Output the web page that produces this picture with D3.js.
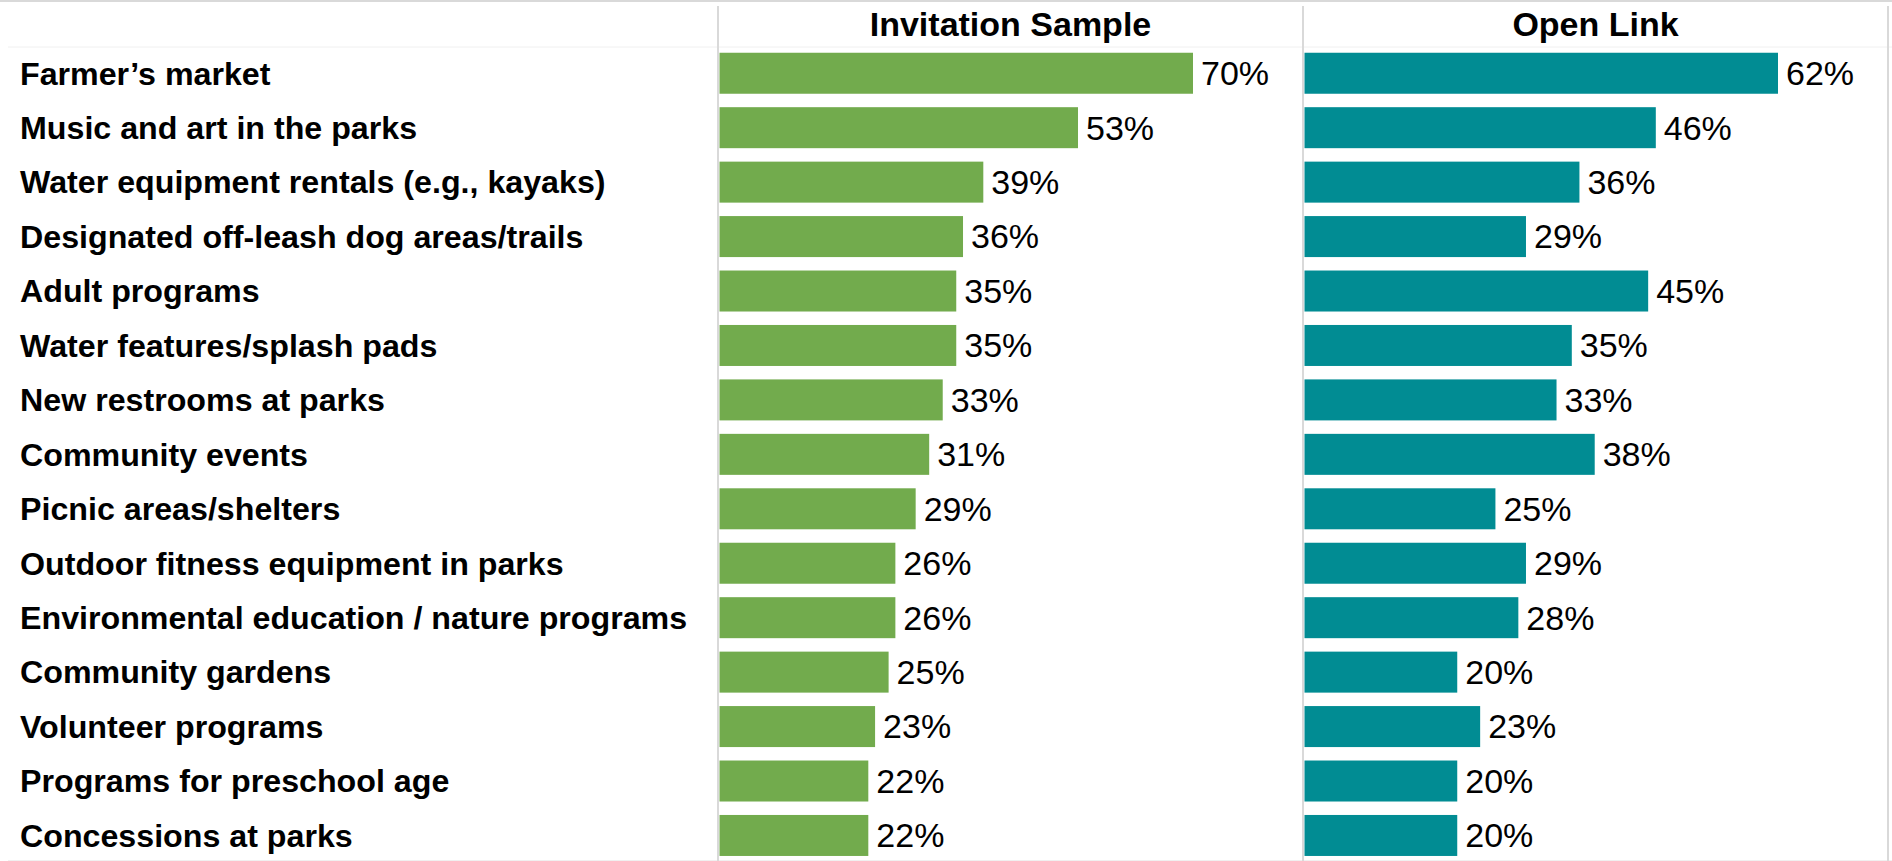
<!DOCTYPE html>
<html>
<head>
<meta charset="utf-8">
<script src="https://cdn.jsdelivr.net/npm/d3@7"></script>
<style>
  html, body { margin: 0; padding: 0; background: #ffffff; }
  svg { display: block; }
  text { font-family: "Liberation Sans", Arial, sans-serif; fill: #000; }
</style>
</head>
<body>
<svg id="chart" width="1892" height="861"></svg>
<script>
// Activities people would like to see, by survey sample
const categories = [
  "Farmer\u2019s market",
  "Music and art in the parks",
  "Water equipment rentals (e.g., kayaks)",
  "Designated off-leash dog areas/trails",
  "Adult programs",
  "Water features/splash pads",
  "New restrooms at parks",
  "Community events",
  "Picnic areas/shelters",
  "Outdoor fitness equipment in parks",
  "Environmental education / nature programs",
  "Community gardens",
  "Volunteer programs",
  "Programs for preschool age",
  "Concessions at parks"
];
const invitationSample = [70, 53, 39, 36, 35, 35, 33, 31, 29, 26, 26, 25, 23, 22, 22];
const openLink = [62, 46, 36, 29, 45, 35, 33, 38, 25, 29, 28, 20, 23, 20, 20];
const panelTitles = ["Invitation Sample", "Open Link"];

const W = 1892, H = 861;
const svg = d3.select("#chart");

const panels = [
  { title: panelTitles[0], values: invitationSample, color: "#72AB4D", x0: 718, x1: 1303 },
  { title: panelTitles[1], values: openLink, color: "#018C93", x0: 1303, x1: 1888 }
];

const y = d3.scaleBand()
  .domain(categories)
  .range([47.3, 861.4])
  .paddingInner(0.247)
  .paddingOuter(0.1);

// frame lines
const grid = svg.append("g");
grid.append("line").attr("x1", 0).attr("x2", W).attr("y1", 1).attr("y2", 1)
  .attr("stroke", "#d9d9d9").attr("stroke-width", 2);
grid.append("line").attr("x1", 8).attr("x2", W).attr("y1", 47).attr("y2", 47)
  .attr("stroke", "#f0f0f0").attr("stroke-width", 1);
grid.append("line").attr("x1", 8).attr("x2", W).attr("y1", 860.5).attr("y2", 860.5)
  .attr("stroke", "#f0f0f0").attr("stroke-width", 1);
[718, 1303, 1888].forEach(xv => {
  grid.append("line").attr("x1", xv).attr("x2", xv).attr("y1", 6).attr("y2", H)
    .attr("stroke", "#d9d9d9").attr("stroke-width", 2);
});

// category labels
svg.append("g").selectAll("text")
  .data(categories)
  .join("text")
  .attr("x", 20)
  .attr("y", d => y(d) + y.bandwidth() / 2)
  .attr("dy", "0.35em")
  .attr("font-size", 32.2)
  .attr("font-weight", "bold")
  .text(d => d);

panels.forEach(p => {
  const left = p.x0 + 1.5;
  const x = d3.scaleLinear()
    .domain([0, d3.max(p.values)])
    .range([left, left + 473.5]);

  const g = svg.append("g");

  g.append("text")
    .attr("x", (p.x0 + p.x1) / 2)
    .attr("y", 24.5)
    .attr("dy", "0.35em")
    .attr("text-anchor", "middle")
    .attr("font-size", 34)
    .attr("font-weight", "bold")
    .text(p.title);

  const rows = categories.map((c, i) => ({ c, v: p.values[i] }));

  g.selectAll("rect")
    .data(rows)
    .join("rect")
    .attr("x", x(0))
    .attr("y", d => y(d.c))
    .attr("width", d => x(d.v) - x(0))
    .attr("height", y.bandwidth())
    .attr("fill", p.color);

  g.selectAll("text.val")
    .data(rows)
    .join("text")
    .attr("class", "val")
    .attr("x", d => x(d.v) + 8)
    .attr("y", d => y(d.c) + y.bandwidth() / 2)
    .attr("dy", "0.35em")
    .attr("font-size", 34)
    .text(d => d.v + "%");
});
</script>
</body>
</html>
